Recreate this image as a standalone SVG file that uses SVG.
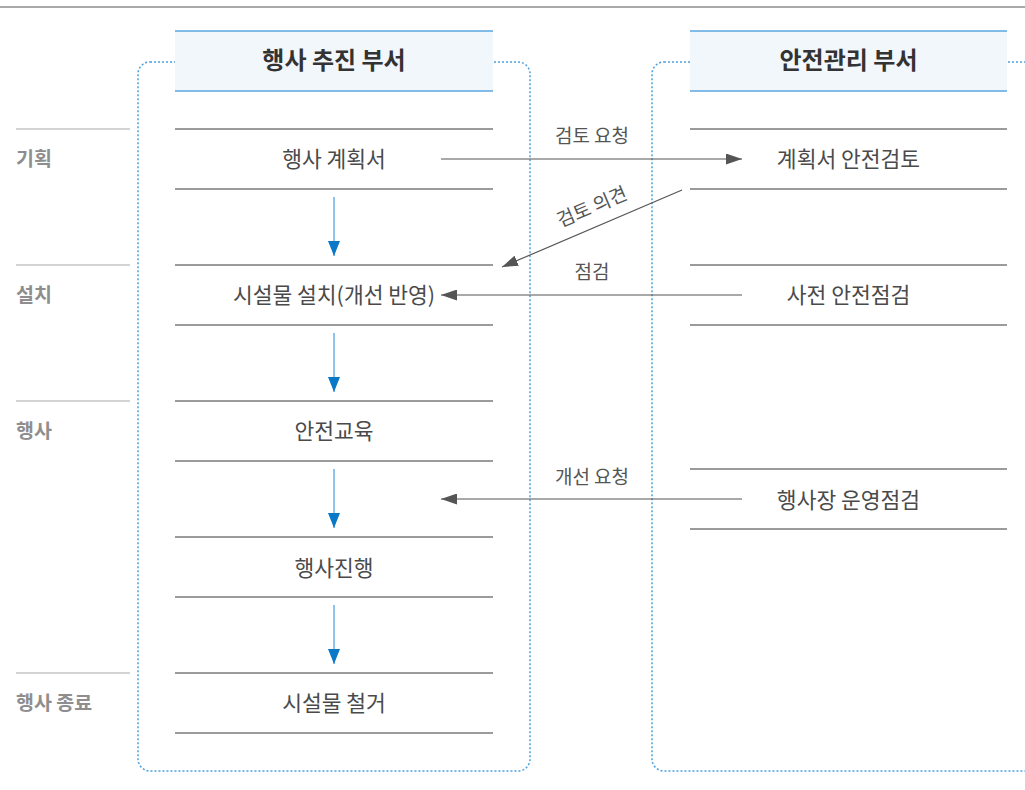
<svg xmlns="http://www.w3.org/2000/svg" width="1025" height="790" viewBox="0 0 1025 790">
<style>
.t{font-family:"Noto Sans CJK KR","Noto Sans",sans-serif;}
.main{font-size:21.5px;fill:#4a4a4a;text-anchor:middle;}
.hdr{font-size:24px;font-weight:bold;fill:#333;text-anchor:middle;}
.lbl{font-size:19.5px;font-weight:bold;fill:#8e8e8e;}
.sm{font-size:19px;fill:#555;text-anchor:middle;}
.row{stroke:#7a7a7a;stroke-width:1.3;}
.lane{fill:none;stroke:#4aa0dc;stroke-width:1.5;stroke-dasharray:2 2;}
.hbox{fill:#f2f7fc;}
.hline{stroke:#5aa7e0;stroke-width:1.6;}
.llane{stroke:#aaa;stroke-width:1.2;}
.blue{stroke:#6db0e6;stroke-width:1.5;fill:none;}
.gray{stroke:#555;stroke-width:1.2;fill:none;}
</style>
<defs>
<marker id="bh" markerWidth="15" markerHeight="12" refX="15" refY="6" orient="auto" markerUnits="userSpaceOnUse" viewBox="0 0 15 12">
<path d="M0,0 L15,6 L0,12 Z" fill="#0a78c8"/>
</marker>
<marker id="gh" markerWidth="16" markerHeight="11" refX="16" refY="5.5" orient="auto" markerUnits="userSpaceOnUse" viewBox="0 0 16 11">
<path d="M0,0 L16,5.5 L0,11 Z" fill="#555"/>
</marker>
</defs>
<rect width="1025" height="790" fill="#fff"/>
<line x1="0" y1="7" x2="1025" y2="7" stroke="#555" stroke-width="1.2"/>

<g id="lane-labels">
<line class="llane" x1="16" y1="129" x2="130" y2="129"/>
<line class="llane" x1="16" y1="265" x2="130" y2="265"/>
<line class="llane" x1="16" y1="401" x2="130" y2="401"/>
<line class="llane" x1="16" y1="673" x2="130" y2="673"/>
<text class="t lbl" x="16" y="166">기획</text>
<text class="t lbl" x="16" y="302">설치</text>
<text class="t lbl" x="16" y="438">행사</text>
<text class="t lbl" x="16" y="710">행사 종료</text>
</g>

<g id="lane-left">
<rect class="lane" x="138" y="62" width="392" height="709" rx="12"/>
<rect class="hbox" x="175" y="31" width="318" height="60"/>
<line class="hline" x1="175" y1="31" x2="493" y2="31"/>
<line class="hline" x1="175" y1="91" x2="493" y2="91"/>
<text class="t hdr" x="334" y="69">행사 추진 부서</text>
</g>

<g id="lane-right">
<rect class="lane" x="652" y="62" width="420" height="709" rx="12"/>
<rect class="hbox" x="690" y="31" width="317" height="60"/>
<line class="hline" x1="690" y1="31" x2="1007" y2="31"/>
<line class="hline" x1="690" y1="91" x2="1007" y2="91"/>
<text class="t hdr" x="848.5" y="69">안전관리 부서</text>
</g>

<g id="n-plan">
<line class="row" x1="175" y1="129" x2="493" y2="129"/>
<line class="row" x1="175" y1="189" x2="493" y2="189"/>
<text class="t main" x="334" y="167">행사 계획서</text>
</g>
<g id="n-install">
<line class="row" x1="175" y1="265" x2="493" y2="265"/>
<line class="row" x1="175" y1="325" x2="493" y2="325"/>
<text class="t main" x="334" y="303">시설물 설치(개선 반영)</text>
</g>
<g id="n-edu">
<line class="row" x1="175" y1="401" x2="493" y2="401"/>
<line class="row" x1="175" y1="461" x2="493" y2="461"/>
<text class="t main" x="334" y="439">안전교육</text>
</g>
<g id="n-run">
<line class="row" x1="175" y1="537" x2="493" y2="537"/>
<line class="row" x1="175" y1="597" x2="493" y2="597"/>
<text class="t main" x="334" y="576">행사진행</text>
</g>
<g id="n-remove">
<line class="row" x1="175" y1="673" x2="493" y2="673"/>
<line class="row" x1="175" y1="733" x2="493" y2="733"/>
<text class="t main" x="334" y="711">시설물 철거</text>
</g>

<g id="n-review">
<line class="row" x1="690" y1="129" x2="1007" y2="129"/>
<line class="row" x1="690" y1="189" x2="1007" y2="189"/>
<text class="t main" x="848.5" y="167">계획서 안전검토</text>
</g>
<g id="n-precheck">
<line class="row" x1="690" y1="265" x2="1007" y2="265"/>
<line class="row" x1="690" y1="325" x2="1007" y2="325"/>
<text class="t main" x="848.5" y="303">사전 안전점검</text>
</g>
<g id="n-opcheck">
<line class="row" x1="690" y1="469" x2="1007" y2="469"/>
<line class="row" x1="690" y1="529" x2="1007" y2="529"/>
<text class="t main" x="848.5" y="508">행사장 운영점검</text>
</g>

<g id="connectors">
<line class="blue" x1="334" y1="197" x2="334" y2="256" marker-end="url(#bh)"/>
<line class="blue" x1="334" y1="333" x2="334" y2="392" marker-end="url(#bh)"/>
<line class="blue" x1="334" y1="469" x2="334" y2="528" marker-end="url(#bh)"/>
<line class="blue" x1="334" y1="605" x2="334" y2="664" marker-end="url(#bh)"/>

<line class="gray" x1="441" y1="159" x2="742" y2="159" marker-end="url(#gh)"/>
<text class="t sm" x="592" y="143">검토 요청</text>

<line class="gray" x1="682" y1="190" x2="502" y2="267" marker-end="url(#gh)"/>
<text class="t sm" transform="translate(592,207) rotate(-23)" x="0" y="6.5">검토 의견</text>

<line class="gray" x1="742" y1="295" x2="441" y2="295" marker-end="url(#gh)"/>
<text class="t sm" x="592" y="279">점검</text>

<line class="gray" x1="742" y1="499" x2="441" y2="499" marker-end="url(#gh)"/>
<text class="t sm" x="592" y="484">개선 요청</text>
</g>
</svg>
